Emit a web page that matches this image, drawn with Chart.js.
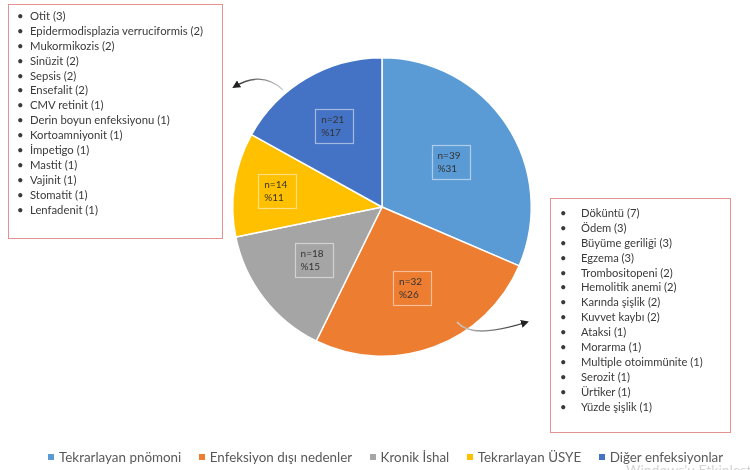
<!DOCTYPE html>
<html>
<head>
<meta charset="utf-8">
<script src="https://cdn.jsdelivr.net/npm/chart.js@4.4.1/dist/chart.umd.min.js"></script>
<style>
  html,body{margin:0;padding:0;background:#fff;}
  #wrap{position:relative;width:750px;height:470px;overflow:hidden;font-family:"Lato","Open Sans",sans-serif;}
  #c{position:absolute;left:0;top:0;}
  .box{position:absolute;border:1.5px solid #e39191;box-sizing:border-box;color:#3a3a3a;}
  .box .it{position:relative;height:14.9px;line-height:14.9px;white-space:nowrap;}
  .box .b{position:absolute;}
  #legend{position:absolute;left:48px;top:449px;display:flex;font-size:13.4px;color:#595959;white-space:nowrap;}
  #legend .li{display:flex;align-items:center;margin-right:17.5px;}
  #legend .sq{width:6px;height:6px;margin-right:5px;}
  #wm{position:absolute;left:626px;top:461px;font-size:14px;color:#d4d4d4;white-space:nowrap;}
  svg{position:absolute;left:0;top:0;}
</style>
</head>
<body>
<div id="wrap">
  <canvas id="c" width="750" height="470"></canvas>
  <div class="box" id="leftBox" style="left:8px;top:4px;width:215px;height:235px;padding-top:4px;font-size:11.3px;"></div>
  <div class="box" id="rightBox" style="left:550px;top:198px;width:181px;height:235px;padding-top:7px;font-size:11.2px;"></div>
  <svg width="750" height="470">
    <defs>
      <marker id="ah" markerWidth="8" markerHeight="8" refX="6" refY="4" orient="auto" markerUnits="userSpaceOnUse">
        <path d="M0,0 L8,4 L0,8 Z" fill="#222"/>
      </marker>
      <linearGradient id="g1" x1="1" y1="0" x2="0" y2="0">
        <stop offset="0" stop-color="#cfcfcf"/><stop offset="1" stop-color="#222"/>
      </linearGradient>
      <linearGradient id="g2" x1="0" y1="0" x2="1" y2="0">
        <stop offset="0" stop-color="#cfcfcf"/><stop offset="1" stop-color="#222"/>
      </linearGradient>
    </defs>
    <path d="M283,90 Q262,70 234,87" stroke="url(#g1)" stroke-width="1.3" fill="none" marker-end="url(#ah)"/>
    <path d="M457,322 Q472,340 527,322" stroke="url(#g2)" stroke-width="1.3" fill="none" marker-end="url(#ah)"/>
  </svg>
  <div id="legend"></div>
  <div id="wm">Windows'u Etkinleştir</div>
</div>
<script>
const categories = ["Tekrarlayan pnömoni", "Enfeksiyon dışı nedenler", "Kronik İshal", "Tekrarlayan ÜSYE", "Diğer enfeksiyonlar"];
const counts = [39, 32, 18, 14, 21];
const percents = [31, 26, 15, 11, 17];
const colors = ["#5b9bd5", "#ed7d31", "#a5a5a5", "#ffc000", "#4472c4"];
const otherInfections = ["Otit (3)", "Epidermodisplazia verruciformis (2)", "Mukormikozis (2)", "Sinüzit (2)", "Sepsis (2)", "Ensefalit (2)", "CMV retinit (1)", "Derin boyun enfeksiyonu (1)", "Kortoamniyonit (1)", "İmpetigo (1)", "Mastit (1)", "Vajinit (1)", "Stomatit (1)", "Lenfadenit (1)"];
const nonInfectious = ["Döküntü (7)", "Ödem (3)", "Büyüme geriliği (3)", "Egzema (3)", "Trombositopeni (2)", "Hemolitik anemi (2)", "Karında şişlik (2)", "Kuvvet kaybı (2)", "Ataksi (1)", "Morarma (1)", "Multiple otoimmünite (1)", "Serozit (1)", "Ürtiker (1)", "Yüzde şişlik (1)"];
const labelRadius = [0.55, 0.58, 0.58, 0.71, 0.63];

function fillList(el, items, bulletX, textX) {
  items.forEach(t => {
    const d = document.createElement('div');
    d.className = 'it';
    d.innerHTML = '<span class="b" style="left:' + bulletX + 'px">•</span><span class="b" style="left:' + textX + 'px"></span>';
    d.lastChild.textContent = t;
    el.appendChild(d);
  });
}
fillList(document.getElementById('leftBox'), otherInfections, 8, 21);
fillList(document.getElementById('rightBox'), nonInfectious, 9, 30);

const lg = document.getElementById('legend');
categories.forEach((c, i) => {
  const d = document.createElement('div');
  d.className = 'li';
  d.innerHTML = '<span class="sq" style="background:' + colors[i] + '"></span><span></span>';
  d.lastChild.textContent = c;
  lg.appendChild(d);
});

const sliceLabels = {
  id: 'sliceLabels',
  afterDatasetsDraw(chart) {
    const ctx = chart.ctx;
    const meta = chart.getDatasetMeta(0);
    meta.data.forEach((arc, i) => {
      const p = arc.getProps(['x', 'y', 'startAngle', 'endAngle', 'outerRadius'], true);
      const mid = (p.startAngle + p.endAngle) / 2;
      const r = p.outerRadius * labelRadius[i];
      const cx = p.x + Math.cos(mid) * r;
      const cy = p.y + Math.sin(mid) * r;
      ctx.save();
      ctx.strokeStyle = 'rgba(255,255,255,0.5)';
      ctx.lineWidth = 1.2;
      ctx.strokeRect(Math.round(cx - 19) + 0.5, Math.round(cy - 17) + 0.5, 38, 34);
      ctx.fillStyle = '#333333';
      ctx.font = '10px Lato, "Open Sans", sans-serif';
      ctx.textAlign = 'left';
      ctx.textBaseline = 'middle';
      ctx.fillText('n=' + counts[i], cx - 13, cy - 6);
      ctx.fillText('%' + percents[i], cx - 13, cy + 7);
      ctx.restore();
    });
  }
};

new Chart(document.getElementById('c'), {
  type: 'pie',
  data: {
    labels: categories,
    datasets: [{
      data: counts,
      backgroundColor: colors,
      borderColor: '#ffffff',
      borderWidth: 1.5
    }]
  },
  options: {
    responsive: false,
    animation: false,
    events: [],
    layout: { padding: { left: 232, right: 218, top: 57, bottom: 113 } },
    plugins: {
      legend: { display: false },
      tooltip: { enabled: false }
    }
  },
  plugins: [sliceLabels]
});
</script>
</body>
</html>
